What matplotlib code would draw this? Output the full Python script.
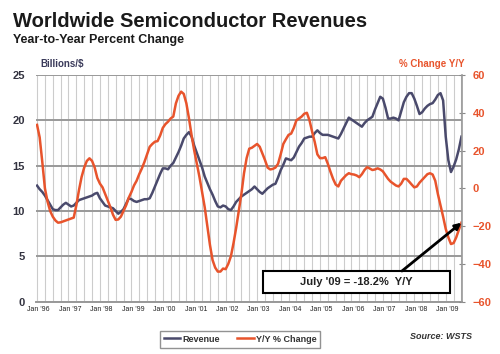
# Worldwide semiconductor revenues, monthly Jan '96 - Jul '09
import numpy as np
import matplotlib
matplotlib.use('Agg')
import matplotlib.pyplot as plt
from matplotlib.patches import Rectangle

plt.rcParams['font.family'] = ['Liberation Sans', 'DejaVu Sans']

# revenue, billions of $ (one row per year)
revenue = [
    12.8, 12.4, 12.1, 11.7, 11.2, 10.7, 10.2, 10.1, 10.1, 10.4, 10.7, 10.9,   # 1996
    10.7, 10.5, 10.6, 10.9, 11.2, 11.3, 11.4, 11.5, 11.6, 11.7, 11.9, 12.0,   # 1997
    11.4, 11.0, 10.6, 10.5, 10.4, 10.3, 10.0, 9.7, 9.9, 10.2, 10.8, 11.4,     # 1998
    11.3, 11.1, 11.0, 11.1, 11.2, 11.3, 11.3, 11.4, 12.0, 12.7, 13.4, 14.1,   # 1999
    14.7, 14.7, 14.6, 15.0, 15.3, 15.9, 16.5, 17.2, 18.0, 18.4, 18.7, 18.2,   # 2000
    17.2, 16.4, 15.6, 14.8, 13.8, 13.1, 12.4, 11.8, 11.1, 10.5, 10.4, 10.6,   # 2001
    10.5, 10.2, 10.1, 10.5, 11.0, 11.3, 11.6, 11.8, 12.0, 12.2, 12.4, 12.7,   # 2002
    12.4, 12.1, 11.9, 12.2, 12.5, 12.7, 12.9, 13.0, 13.7, 14.5, 15.1, 15.8,   # 2003
    15.7, 15.6, 15.9, 16.5, 17.1, 17.5, 18.0, 18.1, 18.2, 18.2, 18.6, 18.9,   # 2004
    18.6, 18.4, 18.4, 18.4, 18.3, 18.2, 18.1, 18.0, 18.5, 19.1, 19.7, 20.3,   # 2005
    20.1, 19.9, 19.7, 19.5, 19.3, 19.7, 20.0, 20.2, 20.4, 21.2, 21.9, 22.6,   # 2006
    22.4, 21.4, 20.2, 20.2, 20.3, 20.2, 20.0, 21.0, 22.0, 22.6, 23.0, 23.0,   # 2007
    22.4, 21.6, 20.7, 20.9, 21.3, 21.6, 21.8, 21.9, 22.3, 22.8, 23.0, 22.2,   # 2008
    18.2, 15.6, 14.3, 14.9, 15.7, 16.8, 18.2,                                 # 2009
]

# year-to-year percent change
yoy = [
    33.6, 27, 14, 0, -7, -12, -15, -17, -18.2, -18, -17.5, -17,               # 1996
    -16.5, -16, -15.5, -9, -1, 6, 11, 14.5, 15.9, 14.5, 11, 5.5,              # 1997
    2.5, 0.5, -3, -6.5, -10, -14, -16.7, -16.5, -15, -12, -9, -5,             # 1998
    -2, 1.5, 4, 7.5, 10.5, 14, 18, 22, 23.5, 24.7, 25, 28,                    # 1999
    32, 34, 35.3, 37, 38, 45, 49, 51.2, 50, 45, 37, 28,                       # 2000
    20, 13, 6, -2, -10, -20, -30, -38, -42, -44.1, -44.1, -42.5,              # 2001
    -42.8, -40, -36, -29, -21, -12, -3, 8, 16, 21, 21.5, 22.5,                # 2002
    23.5, 22, 18.5, 15, 11, 10, 10.3, 11, 13, 18, 23.5, 26,                   # 2003
    28.3, 29, 32, 36, 37, 38, 39.5, 40, 36, 30, 24.5, 18,                     # 2004
    16, 16, 16.5, 13, 8.8, 5, 2, 1, 4, 5.5, 7, 8,                             # 2005
    7.5, 7.3, 6.8, 5.9, 7.5, 9.7, 11.2, 10.5, 9.7, 10, 10.6, 10,              # 2006
    9, 7, 5, 3.5, 2.5, 1.5, 1, 2.5, 5, 5, 3.6, 2,                             # 2007
    0.5, 1, 3, 4.5, 6, 7.5, 8, 7.3, 4, -3, -9, -15,                           # 2008
    -21.5, -26, -29.5, -29, -26, -22, -18.2,                                  # 2009
]

year_labels = ["Jan '96", "Jan '97", "Jan '98", "Jan '99", "Jan '00", "Jan '01", "Jan '02",
               "Jan '03", "Jan '04", "Jan '05", "Jan '06", "Jan '07", "Jan '08", "Jan '09"]
left_ticks = [0, 5, 10, 15, 20, 25]
right_ticks = [-60, -40, -20, 0, 20, 40, 60]

navy = '#4a4a6c'
orange = '#e8542c'
months = np.arange(len(revenue))

fig = plt.figure(figsize=(5, 3.54), dpi=100)
ax = fig.add_axes([0.072, 0.148, 0.853, 0.640])

# grid: gray horizontal lines, light quarterly vertical lines
ax.set_xlim(-0.4, 162.4)
ax.set_ylim(0, 25)
ax.set_yticks(left_ticks)
ax.set_xticks(np.arange(0, 163, 3), minor=True)
ax.set_xticks(np.arange(len(year_labels)) * 12 + 0.6)
ax.set_xticklabels(year_labels, fontsize=5, color='#222222')
ax.grid(axis='y', which='major', color='#999999', linewidth=1.4)
ax.grid(axis='x', which='minor', color='#cccccc', linewidth=0.8)
ax.set_axisbelow(True)
ax.tick_params(axis='x', which='both', length=0, pad=3)
ax.tick_params(axis='y', length=0, pad=8, labelsize=8, labelcolor='#333340')
for lbl in ax.get_yticklabels():
    lbl.set_fontweight('bold')
for s in ['top', 'left', 'right']:
    ax.spines[s].set_visible(False)
ax.spines['bottom'].set_color('#999999')
ax.spines['bottom'].set_linewidth(1.4)

ax.plot(months, revenue, color=navy, linewidth=1.8, label='Revenue')

ax2 = ax.twinx()
ax2.set_ylim(-60, 60)
ax2.set_yticks(right_ticks)
ax2.plot(months, yoy, color=orange, linewidth=1.8, label='Y/Y % Change')
ax2.tick_params(axis='y', direction='inout', length=5, color='#888888', pad=5,
                labelsize=8, labelcolor=orange)
for lbl in ax2.get_yticklabels():
    lbl.set_fontweight('bold')
for s in ['top', 'left', 'bottom']:
    ax2.spines[s].set_visible(False)
ax2.spines['right'].set_color('#999999')
ax2.spines['right'].set_linewidth(1.2)

# callout box and arrow to the last value
ax2.add_patch(Rectangle((0.532, 0.038), 0.439, 0.097, transform=ax2.transAxes,
                        facecolor='white', edgecolor='black', linewidth=1.5, zorder=5))
ax2.text(0.7515, 0.087, "July '09 = -18.2%  Y/Y", transform=ax2.transAxes,
         ha='center', va='center', fontsize=8, fontweight='bold', color='#222222', zorder=6)
ax2.annotate('', xy=(months[-1], yoy[-1]), xytext=(0.858, 0.135),
             textcoords='axes fraction',
             arrowprops=dict(arrowstyle='-|>', color='black', lw=2, mutation_scale=9,
                             shrinkA=0, shrinkB=0), zorder=6)

# titles and axis captions
fig.text(0.026, 0.925, 'Worldwide Semiconductor Revenues', fontsize=14.5, fontweight='bold',
         color='#1a1a1a', ha='left', va='baseline')
fig.text(0.026, 0.878, 'Year-to-Year Percent Change', fontsize=9, fontweight='bold',
         color='#1a1a1a', ha='left', va='baseline')
fig.text(0.08, 0.812, 'Billions/$', fontsize=7, fontweight='bold', color='#3a3a5a',
         ha='left', va='baseline')
fig.text(0.93, 0.812, '% Change Y/Y', fontsize=7, fontweight='bold', color=orange,
         ha='right', va='baseline')
fig.text(0.944, 0.042, 'Source: WSTS', fontsize=6.5, fontweight='bold', style='italic',
         color='#333333', ha='right', va='baseline')

h1, l1 = ax.get_legend_handles_labels()
h2, l2 = ax2.get_legend_handles_labels()
leg = fig.legend(h1 + h2, l1 + l2, loc='center', bbox_to_anchor=(0.48, 0.042), ncol=2,
                 fontsize=6.5, frameon=True, fancybox=False, edgecolor='#777777',
                 handlelength=1.8, handletextpad=0.2, columnspacing=2.0,
                 borderpad=0.45)
leg.get_frame().set_linewidth(1.0)
for t in leg.get_texts():
    t.set_fontweight('bold')
    t.set_color('#333333')

fig.savefig('out.png', dpi=100)
